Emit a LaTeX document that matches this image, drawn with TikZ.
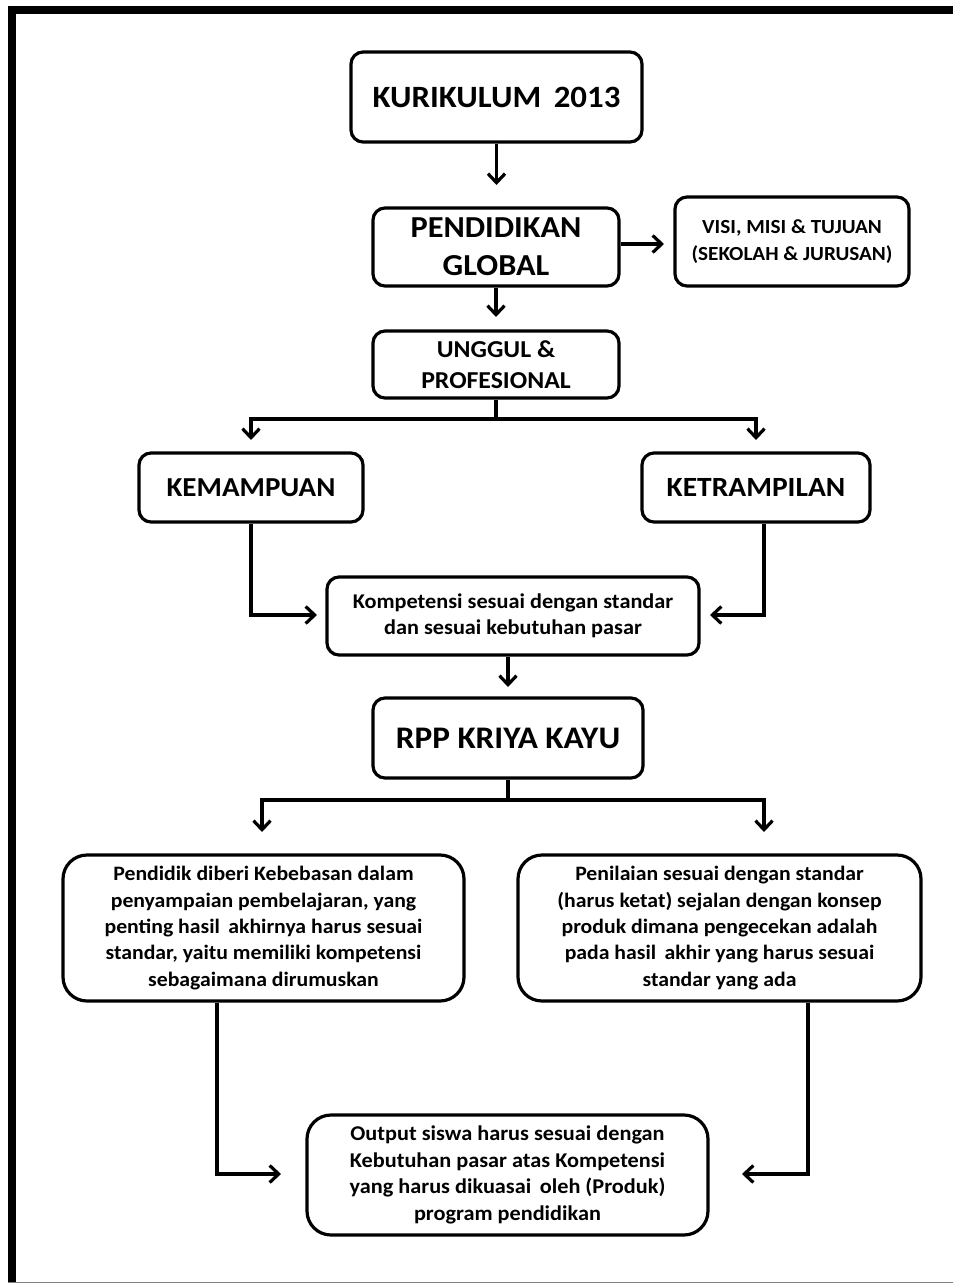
\documentclass[tikz,border=0pt]{standalone}
\usepackage{fontspec}
\setmainfont[FakeStretch=1.06]{Carlito}
\usetikzlibrary{arrows.meta}
\tikzset{
  box/.style={draw=black, line width=3.2pt, rounded corners=12pt, fill=white, align=center, inner sep=0pt, font=\bfseries},
  bigbox/.style={box, rounded corners=24pt},
  conn/.style={line width=3.2pt, -{Straight Barb[length=9pt,width=17pt]}},
  plain/.style={line width=3.2pt},
}
\begin{document}
\begin{tikzpicture}[x=1pt,y=-1pt]
\useasboundingbox (0,0) rectangle (953,1283);
\fill[white] (-10,-10) rectangle (970,1300);
\begin{scope}
\clip (0,0) rectangle (953,1283);
\draw[line width=8pt] (12,10) -- (1010,10);
\draw[line width=8pt] (12,6) -- (12,1283);
\draw[line width=1pt, black!50] (8,1282.5) -- (953,1282.5);
\end{scope}

\node[box, minimum width=291pt, minimum height=90pt, font=\bfseries\fontsize{31}{36}\selectfont] (kur) at (496.5,97) {KURIKULUM\, 2013};
\node[box, minimum width=246pt, minimum height=78pt, font=\bfseries\fontsize{30.5}{38}\selectfont] (pend) at (496,247) {PENDIDIKAN\\GLOBAL};
\node[box, minimum width=234pt, minimum height=89pt, font=\bfseries\fontsize{20}{27}\selectfont] (visi) at (792,241.5) {VISI, MISI \& TUJUAN\\(SEKOLAH \& JURUSAN)};
\node[box, minimum width=246pt, minimum height=67pt, font=\bfseries\fontsize{24.3}{31}\selectfont] (ung) at (496,364.5) {UNGGUL \&\\PROFESIONAL};
\node[box, minimum width=224pt, minimum height=69pt, font=\bfseries\fontsize{27.4}{32}\selectfont] (kem) at (251,487.5) {KEMAMPUAN};
\node[box, minimum width=228pt, minimum height=69pt, font=\bfseries\fontsize{27.8}{32}\selectfont] (ket) at (756,487.5) {KETRAMPILAN};
\node[box, minimum width=372pt, minimum height=78pt, font=\bfseries\fontsize{21}{26}\selectfont] (komp) at (513,616) {Kompetensi sesuai dengan standar\\dan sesuai kebutuhan pasar};
\node[box, minimum width=270pt, minimum height=80pt, font=\bfseries\fontsize{31.4}{36}\selectfont] (rpp) at (508,738) {RPP KRIYA KAYU};
\node[bigbox, minimum width=401pt, minimum height=146pt, font=\bfseries\fontsize{20.5}{26.3}\selectfont] (pdk) at (263.5,928) {Pendidik diberi Kebebasan dalam\\penyampaian pembelajaran, yang\\penting hasil\, akhirnya harus sesuai\\standar, yaitu memiliki kompetensi\\sebagaimana dirumuskan};
\node[bigbox, minimum width=403pt, minimum height=146pt, font=\bfseries\fontsize{20.5}{26.3}\selectfont] (pen) at (719.5,928) {Penilaian sesuai dengan standar\\(harus ketat) sejalan dengan konsep\\produk dimana pengecekan adalah\\pada hasil\, akhir yang harus sesuai\\standar yang ada};
\node[bigbox, minimum width=401pt, minimum height=120pt, font=\bfseries\fontsize{21}{26.7}\selectfont] (out) at (507.5,1175) {Output siswa harus sesuai dengan\\Kebutuhan pasar atas Kompetensi\\yang harus dikuasai\, oleh (Produk)\\program pendidikan};

% connectors
\coordinate (t1) at (496.5,185);
\draw[conn] (kur.south) -- (t1);
\coordinate (t2) at (664,244);
\draw[conn] (pend.east |- t2) -- (t2);
\coordinate (t3) at (496,317);
\draw[conn] (pend.south) -- (t3);

\coordinate (j1) at (496,419);
\coordinate (l1) at (251,419);
\coordinate (r1) at (756,419);
\coordinate (l1t) at (251,440);
\coordinate (r1t) at (756,440);
\draw[plain] (ung.south) -- (j1);
\draw[conn] (j1) -- (l1) -- (l1t);
\draw[conn] (j1) -- (r1) -- (r1t);

\coordinate (kb) at (251,615);
\coordinate (kt) at (317,615);
\draw[conn] (kem.south) -- (kb) -- (kt);
\coordinate (rb) at (764,615);
\coordinate (rt) at (710,615);
\draw[conn] (ket.south -| rb) -- (rb) -- (rt);

\coordinate (t4) at (508,687);
\draw[conn] (komp.south -| t4) -- (t4);

\coordinate (j2) at (508,800);
\coordinate (l2) at (262,800);
\coordinate (r2) at (764,800);
\coordinate (l2t) at (262,832);
\coordinate (r2t) at (764,832);
\draw[plain] (rpp.south) -- (j2);
\draw[conn] (j2) -- (l2) -- (l2t);
\draw[conn] (j2) -- (r2) -- (r2t);

\coordinate (lb) at (217,1174);
\coordinate (lt) at (281,1174);
\draw[conn] (pdk.south -| lb) -- (lb) -- (lt);
\coordinate (rb2) at (808,1174);
\coordinate (rt2) at (742,1174);
\draw[conn] (pen.south -| rb2) -- (rb2) -- (rt2);
\end{tikzpicture}
\end{document}
